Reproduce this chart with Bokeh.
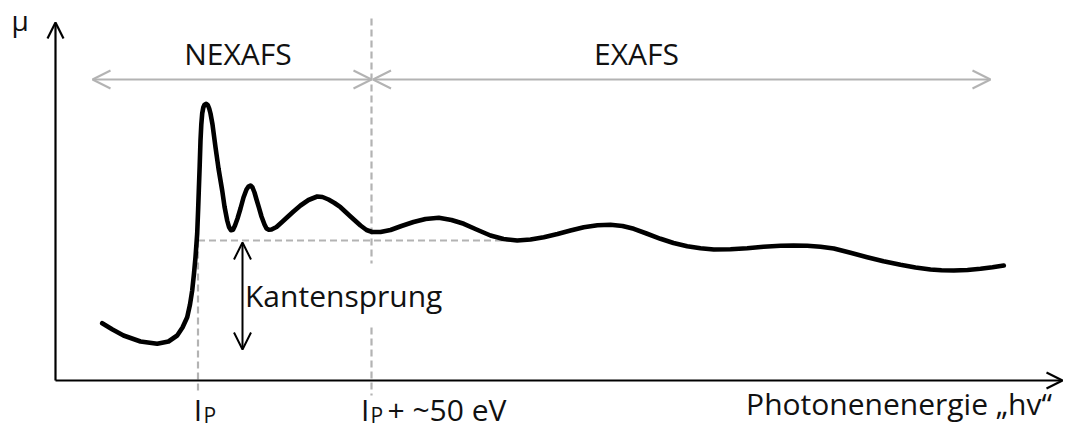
from bokeh.plotting import figure
from bokeh.models import Range1d, Arrow, OpenHead
from bokeh.core.properties import value
from bokeh.embed import file_html
from bokeh.resources import INLINE

# ---- schematic absorption spectrum (photon energy vs. mu) ----
energy = [46.7, 57, 68, 85, 101.7, 113, 121.7, 127, 131.7, 134.5, 136.7, 138.5, 140,
          141.7, 142.6, 143.3, 144.2, 145, 145.8, 146.7, 147.8, 149, 150.7, 152.3,
          153.7, 155, 157, 160, 163, 166.7, 169, 171.7, 173.5, 175.5, 177.5, 179.5,
          182, 185, 188, 191, 193, 195, 197, 199, 201, 203.3, 206, 209, 211, 213.3,
          216, 221, 226, 231.7, 238, 245, 253, 261.7, 267, 273, 279, 285, 295, 305,
          311, 316.7, 325, 335, 346, 358, 370, 383.3, 396, 408.3, 421, 435, 448,
          461.7, 475, 488.3, 502, 515, 528.3, 542, 555, 567, 578.3, 591, 605, 618,
          631.7, 645, 658.3, 675, 691.7, 708, 725, 738, 751.7, 765, 778.3, 795,
          811.7, 828, 845, 860, 875, 886, 898.3, 912, 925, 937, 948.3]
mu = [57.3, 51, 45, 39, 36.7, 39, 45, 53, 63.3, 76, 90, 107, 123.3,
      147, 170, 190, 215, 240, 256, 267, 273, 275.8, 276.7, 275.5,
      272, 267, 256, 233.3, 212, 190, 174, 160, 153.5, 150.2, 150.7, 155,
      162, 172, 183, 191, 194, 195, 193, 188, 181, 173.3, 164, 156, 152, 150.7,
      151, 153.5, 158, 163.3, 169, 175, 180.5, 184, 183.5, 181, 177.5, 173.3, 164, 155,
      150.5, 148.5, 148.5, 150.5, 154.5, 158.5, 161.5, 162.7, 160.5, 156.7, 151, 145, 141.5,
      140, 141, 143.3, 146.5, 150, 153.3, 155.3, 155.7, 154.5, 151.7, 147, 141.7, 137.5,
      134.3, 132.2, 131, 131.3, 132.3, 133.7, 134.7, 135, 134.7, 133.7, 132, 127.7,
      123.3, 119.3, 115.7, 113, 111, 110.2, 110, 110.5, 111.7, 113.2, 115]

# ---- key positions of the schematic ----
E_IP = 142.5          # ionisation potential I_P
E_IP50 = 316          # I_P + ~50 eV
MU_EDGE = 140         # level of the edge step (plateau)
E_PLATEAU_END = 462
MU_JUMP_BOTTOM = 31
E_JUMP = 187
E_AXIS_END = 1007
MU_AXIS_END = 358
MU_REGION = 301
E_NEXAFS = (37, 316)
E_EXAFS = (317.5, 935)

# ---- texts ----
region_labels = ["NEXAFS", "EXAFS"]
region_x = [182.5, 581]
region_y = [327, 327]

tick_main = ["I", "I"]
tick_sub = ["P", "P"]
tick_main_x = [E_IP, 309.7]
tick_sub_x = [148, 315]
tick_extra = "+ ~50 eV"
x_title = "Photonenenergie \u201ehv\u201c"
y_title = "\u03bc"
jump_label = "Kantensprung"

FONT = value("Open Sans")
GRAY = "#b3b3b3"

p = figure(width=1073, height=430, x_range=Range1d(-55, 1018), y_range=Range1d(-50, 380),
           output_backend="svg", toolbar_location=None, min_border=0,
           x_axis_type=None, y_axis_type=None)
p.grid.visible = False
p.outline_line_color = None
p.background_fill_color = "white"
p.border_fill_color = "white"

# dashed guide lines
p.segment(x0=[E_IP50, E_IP50, E_IP, E_IP], y0=[362, 53, MU_EDGE, MU_EDGE],
          x1=[E_IP50, E_IP50, E_IP, E_PLATEAU_END], y1=[117, -15, -12, MU_EDGE],
          line_color=GRAY, line_width=2.2, line_dash="7 4")

# region arrows (gray)
for (a, b) in (E_NEXAFS, E_EXAFS):
    p.add_layout(Arrow(start=OpenHead(size=18, line_color=GRAY, line_width=2),
                       end=OpenHead(size=18, line_color=GRAY, line_width=2),
                       x_start=a, y_start=MU_REGION, x_end=b, y_end=MU_REGION,
                       line_color=GRAY, line_width=2))

# axes
p.add_layout(Arrow(end=OpenHead(size=16, line_color="black", line_width=2.2),
                   x_start=0, y_start=0, x_end=E_AXIS_END, y_end=0,
                   line_color="black", line_width=2.2))
p.add_layout(Arrow(end=OpenHead(size=16, line_color="black", line_width=2.2),
                   x_start=0, y_start=0, x_end=0, y_end=MU_AXIS_END,
                   line_color="black", line_width=2.2))

# edge jump arrow
p.add_layout(Arrow(start=OpenHead(size=17, line_color="black", line_width=2),
                   end=OpenHead(size=17, line_color="black", line_width=2),
                   x_start=E_JUMP, y_start=MU_EDGE - 2, x_end=E_JUMP, y_end=MU_JUMP_BOTTOM,
                   line_color="black", line_width=2))

# spectrum
p.line(energy, mu, line_color="black", line_width=4.6, line_join="round", line_cap="round")

# texts
txt = dict(text_font=FONT, text_color="#111111", text_baseline="alphabetic")
p.text(x=region_x, y=region_y, text=region_labels, text_font_size=value("30px"),
       text_align="center", **txt)
p.text(x=[189.5], y=[85], text=[jump_label], text_font_size=value("30px"),
       text_align="left", **txt)
p.text(x=[-44], y=[361], text=[y_title], text_font_size=value("28px"),
       text_align="left", **txt)
p.text(x=tick_main_x, y=[-28.7, -28.7], text=tick_main, text_font_size=value("30px"),
       text_align="center", **txt)
p.text(x=tick_sub_x, y=[-34, -34], text=tick_sub, text_font_size=value("21px"),
       text_align="left", **txt)
p.text(x=[332], y=[-28.7], text=[tick_extra], text_font_size=value("30px"),
       text_align="left", **txt)
p.text(x=[690.6], y=[-23], text=[x_title], text_font_size=value("30px"),
       text_align="left", **txt)

open("out.html", "w").write(file_html(p, INLINE))
